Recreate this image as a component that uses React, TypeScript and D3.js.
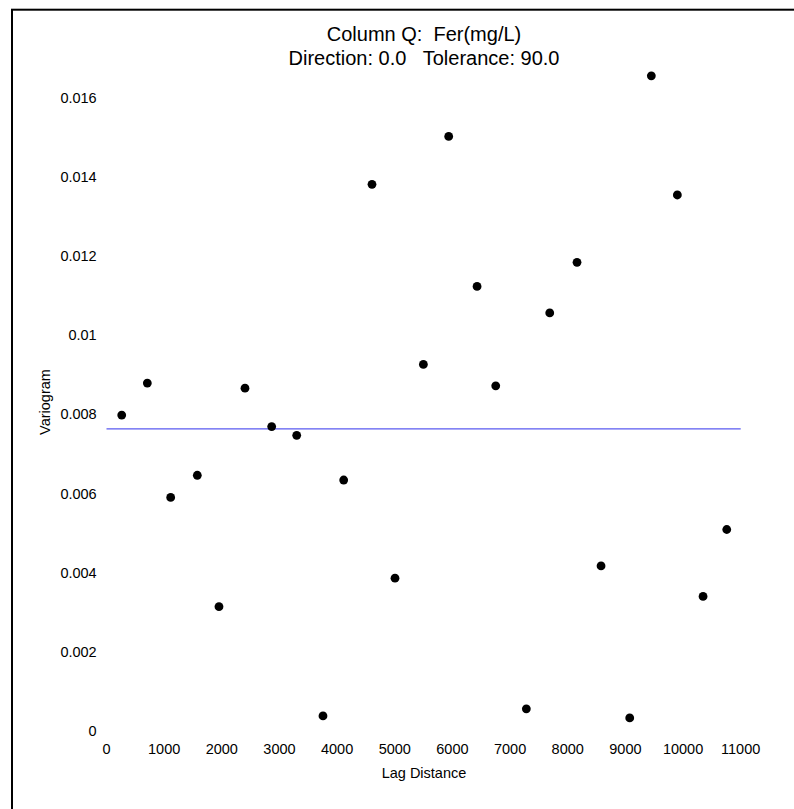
import { useEffect, useRef } from 'react';
import * as d3 from 'd3';

const lagDistance = [264, 708, 1113, 1575, 1951, 2402, 2865, 3299, 3755, 4114, 4605, 5004, 5496, 5935, 6427, 6751, 7282, 7688, 8161, 8578, 9075, 9450, 9901, 10347, 10758];
const variogram = [0.00798, 0.00879, 0.0059, 0.00646, 0.00314, 0.00866, 0.00769, 0.00747, 0.00038, 0.00634, 0.01381, 0.00386, 0.00926, 0.01502, 0.01123, 0.00872, 0.00056, 0.01056, 0.01184, 0.00417, 0.00033, 0.01655, 0.01354, 0.0034, 0.00509];

// horizontal model line
const sill = 0.00763;
const sillRange = [0, 11000];

const xTicks = [0, 1000, 2000, 3000, 4000, 5000, 6000, 7000, 8000, 9000, 10000, 11000];
const xTickLabels = ['0', '1000', '2000', '3000', '4000', '5000', '6000', '7000', '8000', '9000', '10000', '11000'];
const yTicks = [0, 0.002, 0.004, 0.006, 0.008, 0.01, 0.012, 0.014, 0.016];
const yTickLabels = ['0', '0.002', '0.004', '0.006', '0.008', '0.01', '0.012', '0.014', '0.016'];

const titleLines = ['Column Q:  Fer(mg/L)', 'Direction: 0.0   Tolerance: 90.0'];

const App = () => {
  const chartRef = useRef<SVGSVGElement | null>(null);

  useEffect(() => {
    const width = 794;
    const height = 809;
    const font = "'Liberation Sans', Arial, sans-serif";

    const svg = d3.select(chartRef.current);
    svg.selectAll('*').remove();

    const x = d3.scaleLinear().domain([0, 11000]).range([106.5, 740.7]);
    const y = d3.scaleLinear().domain([0, 0.016]).range([731, 97.6]);

    // outer frame (right and bottom fall outside the picture)
    svg
      .append('rect')
      .attr('x', 12)
      .attr('y', 9.7)
      .attr('width', width)
      .attr('height', height)
      .attr('fill', 'none')
      .attr('stroke', '#000')
      .attr('stroke-width', 2);

    // title
    svg
      .selectAll('text.title')
      .data(titleLines)
      .enter()
      .append('text')
      .attr('class', 'title')
      .attr('x', 424)
      .attr('y', (d, i) => 41 + i * 23.5)
      .attr('text-anchor', 'middle')
      .attr('font-family', font)
      .attr('font-size', 20)
      .attr('xml:space', 'preserve')
      .style('white-space', 'pre')
      .text(d => d);

    // y tick labels
    svg
      .selectAll('text.ytick')
      .data(yTicks)
      .enter()
      .append('text')
      .attr('class', 'ytick')
      .attr('x', 96.7)
      .attr('y', d => y(d))
      .attr('dy', '0.35em')
      .attr('text-anchor', 'end')
      .attr('font-family', font)
      .attr('font-size', 14.5)
      .text((d, i) => yTickLabels[i]);

    // x tick labels
    svg
      .selectAll('text.xtick')
      .data(xTicks)
      .enter()
      .append('text')
      .attr('class', 'xtick')
      .attr('x', d => x(d))
      .attr('y', 749)
      .attr('dy', '0.35em')
      .attr('text-anchor', 'middle')
      .attr('font-family', font)
      .attr('font-size', 14.5)
      .text((d, i) => xTickLabels[i]);

    // axis titles
    svg
      .append('text')
      .attr('x', 424)
      .attr('y', 773)
      .attr('dy', '0.35em')
      .attr('text-anchor', 'middle')
      .attr('font-family', font)
      .attr('font-size', 14.5)
      .text('Lag Distance');

    svg
      .append('text')
      .attr('transform', 'translate(45,402) rotate(-90)')
      .attr('dy', '0.35em')
      .attr('text-anchor', 'middle')
      .attr('font-family', font)
      .attr('font-size', 14.5)
      .text('Variogram');

    // sill line
    svg
      .append('path')
      .datum(sillRange)
      .attr('fill', 'none')
      .attr('stroke', '#5a5af0')
      .attr('stroke-width', 1.3)
      .attr('d', d3.line<number>().x(d => x(d)).y(() => y(sill)));

    // points
    svg
      .selectAll('circle.pt')
      .data(lagDistance)
      .enter()
      .append('circle')
      .attr('class', 'pt')
      .attr('cx', d => x(d))
      .attr('cy', (d, i) => y(variogram[i]))
      .attr('r', 4.4)
      .attr('fill', '#000');
  }, []);

  return (
    <svg
      ref={chartRef}
      width={794}
      height={809}
      style={{ position: 'absolute', left: 0, top: 0, background: '#fff' }}
    />
  );
};

export default App;
